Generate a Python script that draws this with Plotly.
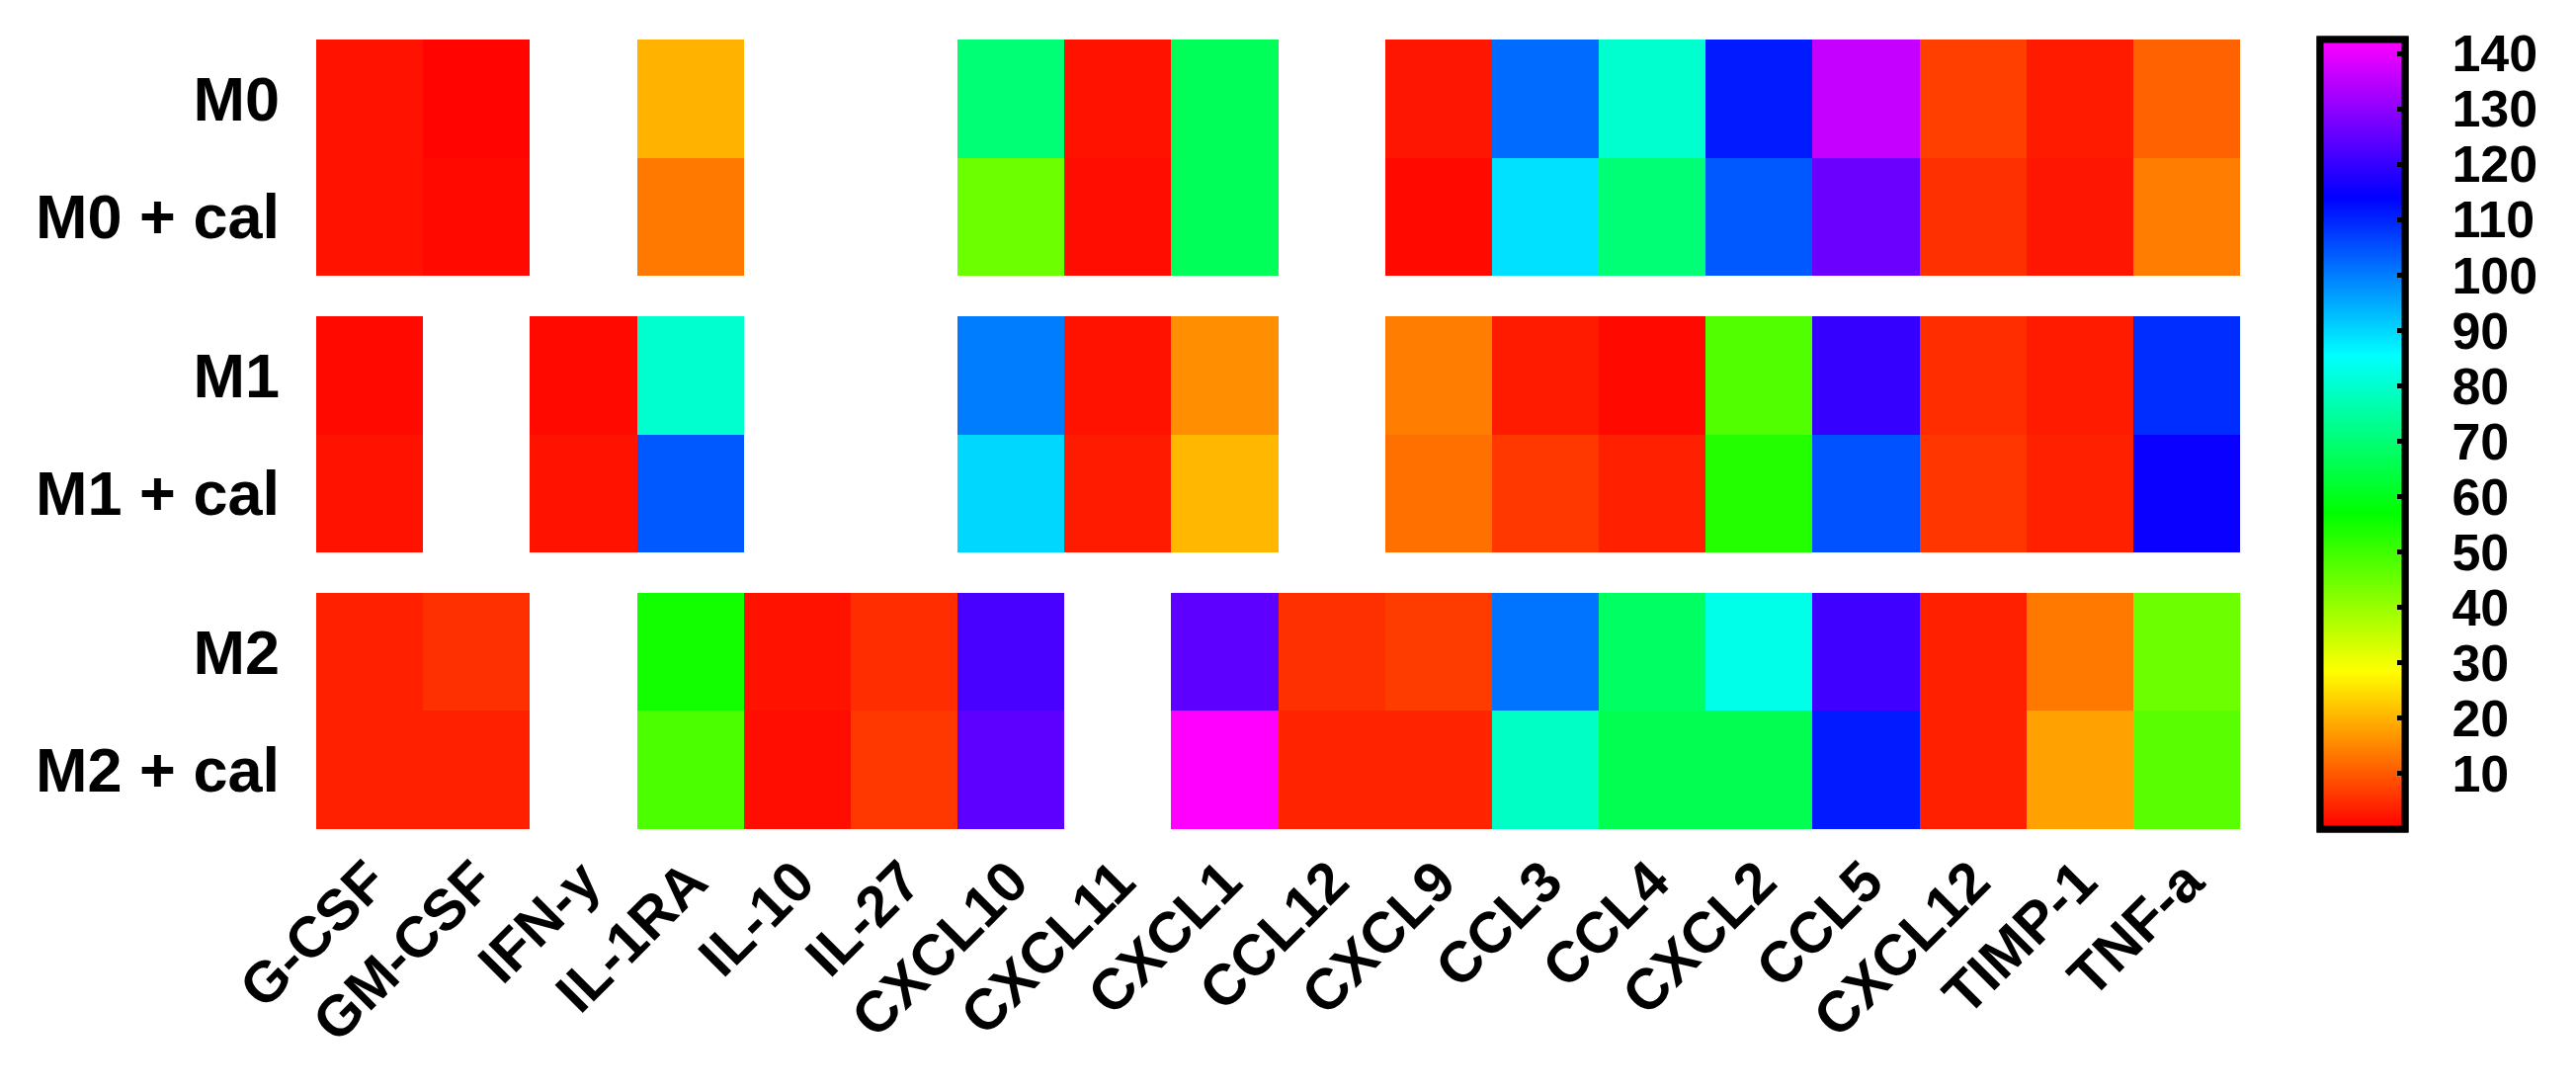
import plotly.graph_objects as go

cytokines = ["G-CSF", "GM-CSF", "IFN-y", "IL-1RA", "IL-10", "IL-27", "CXCL10", "CXCL11",
             "CXCL1", "CCL12", "CXCL9", "CCL3", "CCL4", "CXCL2", "CCL5", "CXCL12", "TIMP-1", "TNF-a"]

N = None
M0 = [2, 0.5, N, 20, N, N, 70, 2, 67, N, 2.5, 102, 80, 111, 136, 7, 3, 11]
M0_cal = [2, 1, N, 13.5, N, N, 45, 1.5, 67, N, 1, 89, 70, 104, 126, 5.4, 2.5, 14]
M1 = [1, N, 1, 80, N, N, 100, 2, 16, N, 14, 3, 1, 48, 120, 5, 3, 109]
M1_cal = [2, N, 2, 104, N, N, 90, 3, 20.5, N, 12.5, 6.3, 3.6, 53, 105, 6, 3.6, 115]
M2 = [3.6, 5.4, N, 55, 2, 5, 122, N, 124.5, 5.4, 6.7, 101, 68, 83, 121, 3.6, 13.5, 45]
M2_cal = [3.6, 3.6, N, 48.5, 1.5, 6.3, 124.5, N, 142.5, 4, 4, 79, 66, 66, 111, 3.6, 18, 47]

groups = [("M0", M0, "M0 + cal", M0_cal),
          ("M1", M1, "M1 + cal", M1_cal),
          ("M2", M2, "M2 + cal", M2_cal)]

cbar_ticks = [10, 20, 30, 40, 50, 60, 70, 80, 90, 100, 110, 120, 130, 140]
zmin, zmax = 0, 142.5

FONT = "Liberation Sans, Arial, sans-serif"
GAP = 0.343
SCALE = [[0, "#ff0000"], [0.2, "#ffff00"], [0.4, "#00ff00"],
         [0.6, "#00ffff"], [0.8, "#0000ff"], [1, "#ff00ff"]]

fig = go.Figure()
tickvals, ticktext = [], []
n = len(groups)
for i, (name, vals, name_cal, vals_cal) in enumerate(groups):
    base = (n - 1 - i) * (2 + GAP)
    ys = [base + 0.5, base + 1.5]
    fig.add_trace(go.Heatmap(
        z=[vals_cal, vals], x=cytokines, y=ys,
        coloraxis="coloraxis2" if i == 0 else "coloraxis", hoverongaps=False))
    tickvals += ys
    ticktext += [name_cal, name]

bar_common = dict(
    thickness=86, len=799, lenmode="pixels",
    y=0, yanchor="bottom", ypad=0,
    x=1.0416, xanchor="left", xpad=0,
    outlinewidth=7, outlinecolor="black",
    tickvals=cbar_ticks,
)

fig.update_layout(
    width=2607, height=1104,
    margin=dict(l=312, r=348, t=32, b=273),
    plot_bgcolor="white", paper_bgcolor="white",
    coloraxis=dict(
        colorscale=SCALE, cmin=zmin, cmax=zmax,
        colorbar=dict(
            **bar_common,
            ticks="inside", ticklen=11, tickwidth=5, tickcolor="black",
            showticklabels=False,
        ),
    ),
    coloraxis2=dict(
        colorscale=SCALE, cmin=zmin, cmax=zmax,
        colorbar=dict(
            **bar_common,
            ticks="outside", ticklen=34, tickwidth=1, tickcolor="rgba(0,0,0,0)",
            tickfont=dict(size=52, family=FONT, color="black", weight="bold"),
        ),
    ),
    xaxis=dict(
        range=[-0.5, len(cytokines) - 0.5], tickangle=-45, showgrid=False,
        zeroline=False, showline=False, ticks="", ticklabelstandoff=6,
        tickfont=dict(size=58, family=FONT, color="black", weight="bold"),
    ),
    yaxis=dict(
        range=[0, n * 2 + (n - 1) * GAP], tickvals=tickvals, ticktext=ticktext,
        showgrid=False, zeroline=False, showline=False, ticks="",
        ticklabelstandoff=36,
        tickfont=dict(size=63, family=FONT, color="black", weight="bold"),
    ),
)

fig.write_html("out.html")
